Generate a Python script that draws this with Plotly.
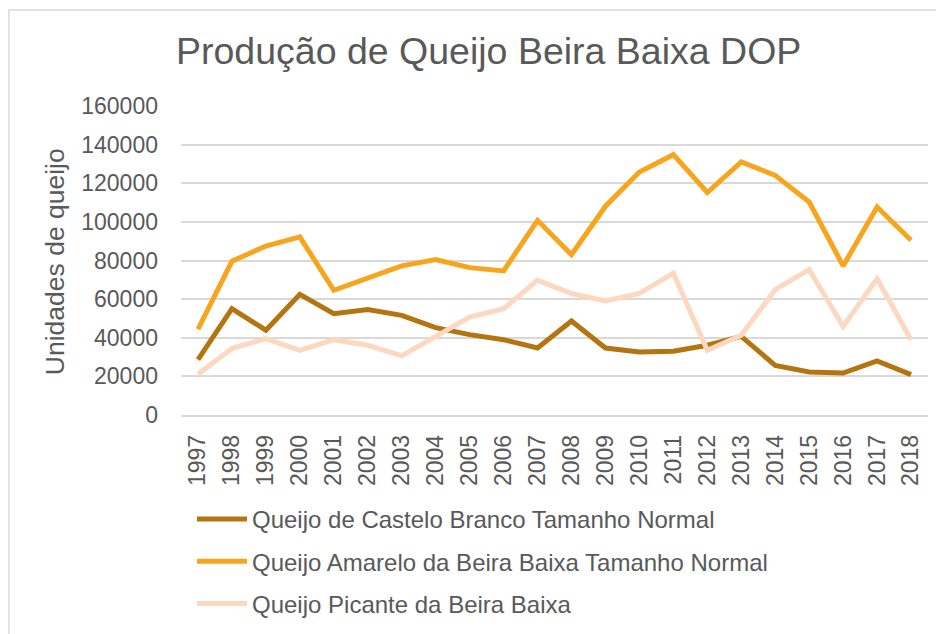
import plotly.graph_objects as go

years = [str(y) for y in range(1997, 2019)]
castelo_branco = [28700, 55100, 43900, 62500, 52500, 54600, 51600, 45200, 41600, 39000, 34700,
                  48700, 34700, 32600, 33000, 36100, 40700, 25700, 22300, 21700, 28000, 20900]
amarelo = [44400, 79600, 87500, 92200, 64600, 70600, 77200, 80500, 76300, 74600, 100800,
           83000, 108100, 125800, 134800, 115200, 131000, 124100, 110300, 77200, 107700, 90500]
picante = [21100, 34400, 39600, 33500, 39000, 36100, 30600, 40400, 50700, 55100, 69800,
           62900, 59000, 62900, 73500, 33500, 41300, 64900, 75300, 45900, 70600, 39000]

names = ["Queijo de Castelo Branco Tamanho Normal",
         "Queijo Amarelo da Beira Baixa Tamanho Normal",
         "Queijo Picante da Beira Baixa"]
colors = ["#B47410", "#F8A51E", "#FBD8BF"]
yticks = [0, 20000, 40000, 60000, 80000, 100000, 120000, 140000, 160000]

FONT = "Liberation Sans, Arial, sans-serif"
GREY = "#595959"

# page body has an 8px margin, so the figure is laid out 8px smaller
W, H = 936, 626
L, R, T, B = 173, 16, 98, 219.3
PW, PH = W - L - R, H - T - B

fig = go.Figure()
for i, (nm, vals) in enumerate(zip(names, [castelo_branco, amarelo, picante])):
    fig.add_trace(go.Scatter(x=years, y=vals, name=nm, mode="lines",
                             line=dict(color=colors[i], width=5),
                             legendgroup="g%d" % i))

fig.update_layout(
    width=W, height=H,
    margin=dict(l=L, r=R, t=T, b=B, autoexpand=False),
    paper_bgcolor="white", plot_bgcolor="white",
    font=dict(family=FONT, color=GREY, size=23),
    title=dict(text="Produção de Queijo Beira Baixa DOP", x=168/W, xanchor="left",
               y=1 - 43/H, yanchor="middle",
               font=dict(size=37.5, color=GREY, family=FONT)),
    xaxis=dict(type="category", range=[-0.5, 21.5], tickangle=-90,
               showgrid=False, showline=True, linecolor="#D9D9D9", linewidth=1.5,
               ticks="", tickfont=dict(size=23, color=GREY), ticklabelstandoff=9),
    yaxis=dict(range=[0, 160000], tickvals=yticks, ticktext=[str(v) for v in yticks],
               showgrid=True, gridcolor="#D9D9D9", gridwidth=1.5, zeroline=False,
               showline=False, ticks="", tickfont=dict(size=23, color=GREY),
               ticklabelstandoff=22),
    annotations=[dict(text="Unidades de queijo", xref="paper", yref="paper",
                      x=(47 - L) / PW, y=(H - B - 254) / PH, textangle=-90,
                      showarrow=False, xanchor="center", yanchor="middle",
                      font=dict(size=26.5, color=GREY, family=FONT))],
    showlegend=True,
    legend=dict(xref="container", yref="container", x=184/W, y=1 - 489/H,
                xanchor="left", yanchor="top", orientation="v",
                font=dict(size=24, color=GREY), itemwidth=50,
                tracegroupgap=8, bgcolor="rgba(0,0,0,0)"),
    shapes=[dict(type="rect", xref="paper", yref="paper",
                 x0=(1 - L) / PW, x1=2.0, y0=-2.0, y1=(H - B - 2) / PH,
                 line=dict(color="#D9D9D9", width=1.5), fillcolor="rgba(0,0,0,0)",
                 layer="below")],
)

fig.write_html("out.html")
